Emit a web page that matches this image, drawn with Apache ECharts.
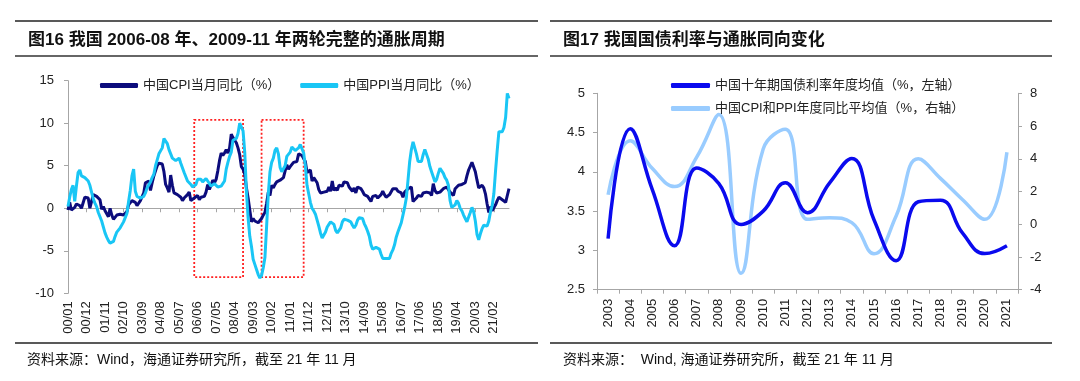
<!DOCTYPE html>
<html><head><meta charset="utf-8">
<script src="https://cdn.jsdelivr.net/npm/echarts@6/dist/echarts.min.js"></script>
<style>html,body{margin:0;padding:0;background:#fff}#c{width:1080px;height:381px}</style>
</head><body><div id="c"></div>
<script>
// ---------- Figure 16: monthly CPI / PPI yoy (%), 2000/01 - 2021/11 ----------
const cpiMonthly = [
  -0.2, 0.7, -0.2, -0.3, 0.1, 0.5, 0.5, 0.3, 0.0, 0.0, 1.3, 1.5,      // 2000
  1.2, 0.0, 0.8, 1.6, 1.7, 1.4, 1.5, 1.0, -0.1, 0.2, -0.3, -0.3,      // 2001
  -1.0, 0.0, -0.8, -1.3, -1.1, -0.8, -0.9, -0.7, -0.7, -0.8, -0.7, -0.4, // 2002
  0.4, 0.2, 0.9, 1.0, 0.7, 0.3, 0.5, 0.9, 1.1, 1.8, 3.0, 3.2,         // 2003
  3.2, 2.1, 3.0, 3.8, 4.4, 5.0, 5.3, 5.3, 5.2, 4.3, 2.8, 2.4,         // 2004
  1.9, 3.9, 2.7, 1.8, 1.8, 1.6, 1.8, 1.3, 0.9, 1.2, 1.3, 1.6,         // 2005
  1.9, 0.9, 0.8, 1.2, 1.4, 1.5, 1.0, 1.3, 1.5, 1.4, 1.9, 2.8,         // 2006
  2.2, 2.7, 3.3, 3.0, 3.4, 4.4, 5.6, 6.5, 6.2, 6.5, 6.9, 6.5,         // 2007
  7.1, 8.7, 8.3, 8.5, 7.7, 7.1, 6.3, 4.9, 4.6, 4.0, 2.4, 1.2,         // 2008
  1.0, -1.6, -1.2, -1.5, -1.4, -1.7, -1.8, -1.2, -0.8, -0.5, 0.6, 1.9, // 2009
  1.5, 2.7, 2.4, 2.8, 3.1, 2.9, 3.3, 3.5, 3.6, 4.4, 5.1, 4.6,         // 2010
  4.9, 4.9, 5.4, 5.3, 5.5, 6.4, 6.5, 6.2, 6.1, 5.5, 4.2, 4.1,         // 2011
  4.5, 3.2, 3.6, 3.4, 3.0, 2.2, 1.8, 2.0, 1.9, 1.7, 2.0, 2.5,         // 2012
  2.0, 3.2, 2.1, 2.4, 2.1, 2.7, 2.7, 2.6, 3.1, 3.2, 3.0, 2.5,         // 2013
  2.5, 2.0, 2.4, 1.8, 2.5, 2.3, 2.3, 2.0, 1.6, 1.6, 1.4, 1.5,         // 2014
  0.8, 1.4, 1.4, 1.5, 1.2, 1.4, 1.6, 2.0, 1.6, 1.3, 1.5, 1.6,         // 2015
  1.8, 2.3, 2.3, 2.3, 2.0, 1.9, 1.8, 1.3, 1.9, 2.1, 2.3, 2.1,         // 2016
  2.5, 0.8, 0.9, 1.2, 1.5, 1.5, 1.4, 1.8, 1.6, 1.9, 1.7, 1.8,         // 2017
  1.5, 2.9, 2.1, 1.8, 1.8, 1.9, 2.1, 2.3, 2.5, 2.5, 2.2, 1.9,         // 2018
  1.7, 1.5, 2.3, 2.5, 2.7, 2.7, 2.8, 2.8, 3.0, 3.8, 4.5, 4.5,         // 2019
  5.4, 5.2, 4.3, 3.3, 2.4, 2.5, 2.7, 2.4, 1.7, 0.5, -0.5, 0.2,        // 2020
  -0.3, -0.2, 0.4, 0.9, 1.3, 1.1, 1.0, 0.8, 0.7, 1.5, 2.3             // 2021
];
const ppiMonthly = [
  0.2, 1.3, 2.2, 2.7, 0.8, 2.6, 4.2, 4.5, 3.8, 3.7, 3.6, 3.4,         // 2000
  3.2, 2.7, 1.9, 1.1, 0.6, 0.2, -0.5, -1.0, -1.5, -2.2, -2.9, -3.4,   // 2001
  -3.8, -4.1, -4.2, -3.9, -3.3, -2.8, -2.6, -2.3, -2.1, -1.6, -1.1, -0.6, // 2002
  0.8, 2.1, 3.8, 4.6, 2.0, 1.4, 1.2, 1.2, 1.1, 1.4, 1.8, 2.4,         // 2003
  2.6, 3.1, 3.6, 4.0, 5.0, 5.7, 6.4, 6.4, 7.1, 8.2, 8.4, 7.6,         // 2004
  6.9, 6.4, 5.9, 5.8, 5.6, 5.5, 5.9, 5.3, 5.1, 4.2, 3.7, 3.2,         // 2005
  3.1, 2.8, 2.5, 2.3, 2.8, 3.4, 3.6, 3.4, 3.1, 3.3, 3.5, 3.2,         // 2006
  3.3, 2.6, 2.7, 2.9, 2.8, 2.5, 2.4, 2.6, 2.7, 3.2, 4.6, 5.4,         // 2007
  6.1, 6.6, 8.0, 8.1, 8.2, 8.8, 10.0, 10.1, 9.1, 6.6, 2.0, -1.1,      // 2008
  -3.3, -4.5, -6.0, -6.6, -7.2, -7.8, -8.2, -7.9, -7.0, -5.8, -2.1, 1.7, // 2009
  4.3, 5.4, 5.9, 6.8, 7.1, 6.4, 4.8, 4.3, 4.3, 5.0, 6.1, 5.9,         // 2010
  6.6, 7.2, 7.3, 6.8, 6.8, 7.1, 7.5, 7.3, 6.5, 5.0, 2.7, 1.7,         // 2011
  0.7, 0.0, -0.3, -0.7, -1.4, -2.1, -2.9, -3.5, -3.6, -2.8, -2.2, -1.9, // 2012
  -1.6, -1.6, -1.9, -2.6, -2.9, -2.7, -2.3, -1.6, -1.3, -1.5, -1.4, -1.4, // 2013
  -1.6, -2.0, -2.3, -2.0, -1.4, -1.1, -0.9, -1.2, -1.8, -2.2, -2.7, -3.3, // 2014
  -4.3, -4.8, -4.6, -4.6, -4.6, -4.8, -5.4, -5.9, -5.9, -5.9, -5.9, -5.9, // 2015
  -5.3, -4.9, -4.3, -3.4, -2.8, -2.6, -1.7, -0.8, 0.1, 1.2, 3.3, 5.5, // 2016
  6.9, 7.8, 7.6, 6.4, 5.5, 5.5, 5.5, 6.3, 6.9, 6.9, 5.8, 4.9,         // 2017
  4.3, 3.7, 3.1, 3.4, 4.1, 4.7, 4.6, 4.1, 3.6, 3.3, 2.7, 0.9,         // 2018
  0.1, 0.1, 0.4, 0.9, 0.6, 0.0, -0.3, -0.8, -1.2, -1.6, -1.4, -0.5,   // 2019
  0.1, -0.4, -1.5, -3.1, -3.7, -3.0, -2.4, -2.0, -2.1, -2.1, -1.5, -0.4, // 2020
  0.3, 1.7, 4.4, 6.8, 9.0, 8.8, 9.0, 9.5, 10.7, 13.5, 12.9           // 2021
];
const monthStartYear = 2000;
const monthLabels = [];
for (let i = 0; i < cpiMonthly.length; i++) {
  const y = monthStartYear + Math.floor(i / 12), m = i % 12 + 1;
  monthLabels.push(String(y % 100).padStart(2, '0') + '/' + String(m).padStart(2, '0'));
}
const cycleBoxes = [['06/04', '08/09'], ['09/08', '11/09']];
const cycleBoxTop = 10.4, cycleBoxBottom = -8.1;
const leftYTicks = { min: -10, max: 15, interval: 5 };

// ---------- Figure 17: annual averages, 2003 - 2021 ----------
const years = ['2003','2004','2005','2006','2007','2008','2009','2010','2011','2012',
               '2013','2014','2015','2016','2017','2018','2019','2020','2021'];
const bondYield10y = [3.15, 4.55, 3.77, 3.06, 4.05, 3.85, 3.33, 3.50, 3.86, 3.48,
                      3.86, 4.17, 3.39, 2.87, 3.62, 3.64, 3.22, 2.96, 3.06];
const cpiPpiAvg = [1.8, 5.1, 3.4, 2.3, 4.1, 6.7, -3.0, 4.6, 5.8, 0.3,
                   0.4, 0.1, -1.8, 0.5, 4.0, 2.8, 1.5, 0.3, 4.4];
const rightYLeftTicks = { min: 2.5, max: 5, interval: 0.5 };
const rightYRightTicks = { min: -4, max: 8, interval: 2 };

const names = {
  cpi: '中国CPI当月同比（%）',
  ppi: '中国PPI当月同比（%）',
  bond: '中国十年期国债利率年度均值（%，左轴）',
  avg: '中国CPI和PPI年度同比平均值（%，右轴）'
};

const FONT = '"Liberation Sans", Arial, "Noto Sans CJK SC", sans-serif';
const AX = '#a6a6a6';
const TXT = '#222';

const chart = echarts.init(document.getElementById('c'), null, { renderer: 'canvas' });

function hLine(x1, x2, y, w, c) {
  return { type: 'line', silent: true, shape: { x1, y1: y, x2, y2: y }, style: { stroke: c, lineWidth: w } };
}
function txt(x, y, s, font) {
  return { type: 'text', silent: true, x, y, style: { text: s, font, fill: '#111', verticalAlign: 'middle', textAlign: 'left' } };
}

const option = {
  backgroundColor: '#fff',
  animation: false,
  textStyle: { fontFamily: FONT },
  graphic: [
    hLine(15, 538, 21, 1.5, '#222'),
    hLine(15, 538, 56, 2, '#666'),
    hLine(15, 538, 343, 1.5, '#222'),
    hLine(550, 1052, 21, 1.5, '#222'),
    hLine(550, 1052, 56, 2, '#666'),
    hLine(550, 1052, 343, 1.5, '#222'),
    txt(28, 40, '图16 我国 2006-08 年、2009-11 年两轮完整的通胀周期', 'bold 17px ' + FONT),
    txt(563, 40, '图17 我国国债利率与通胀同向变化', 'bold 17px ' + FONT),
    txt(27, 360, '资料来源：Wind，海通证券研究所，截至 21 年 11 月', '14px ' + FONT),
    txt(563, 360, '资料来源：  Wind, 海通证券研究所，截至 21 年 11 月', '14px ' + FONT)
  ],
  legend: [
    {
      data: [names.cpi, names.ppi],
      left: 95, top: 74, itemWidth: 38, itemHeight: 5, itemGap: 20,
      icon: 'roundRect',
      textStyle: { fontSize: 13, color: TXT, fontFamily: FONT },
      selectedMode: false
    },
    {
      data: [names.bond, names.avg],
      orient: 'vertical',
      left: 666, top: 74, itemWidth: 39, itemHeight: 5, itemGap: 10,
      icon: 'roundRect',
      textStyle: { fontSize: 13, color: TXT, fontFamily: FONT },
      selectedMode: false
    }
  ],
  grid: [
    { left: 68, top: 80.7, width: 441, height: 212.6, containLabel: false, outerBoundsMode: 'none' },
    { left: 597, top: 93.3, width: 421, height: 196.4, containLabel: false, outerBoundsMode: 'none' }
  ],
  xAxis: [
    {
      type: 'category', gridIndex: 0, data: monthLabels, boundaryGap: false,
      axisLine: { show: true, onZero: true, lineStyle: { color: AX, width: 1 } },
      axisTick: { show: true, interval: 10, length: 4, lineStyle: { color: AX } },
      axisLabel: { show: false },
      splitLine: { show: false }
    },
    {
      type: 'category', gridIndex: 0, data: monthLabels, boundaryGap: false, position: 'bottom',
      axisLine: { show: false, onZero: false },
      axisTick: { show: false },
      axisLabel: { show: true, interval: 10, rotate: 90, margin: 8, fontSize: 13, color: TXT, fontFamily: FONT },
      splitLine: { show: false }
    },
    {
      type: 'category', gridIndex: 1, data: years, boundaryGap: true, position: 'bottom',
      axisLine: { show: true, onZero: false, lineStyle: { color: AX } },
      axisTick: { show: true, alignWithLabel: false, interval: 0, length: 4, lineStyle: { color: AX } },
      axisLabel: { show: true, interval: 0, rotate: 90, margin: 9, fontSize: 13, color: TXT, fontFamily: FONT },
      splitLine: { show: false }
    }
  ],
  yAxis: [
    {
      type: 'value', gridIndex: 0, min: leftYTicks.min, max: leftYTicks.max, interval: leftYTicks.interval,
      axisLine: { show: true, lineStyle: { color: AX } },
      axisTick: { show: true, length: 4, lineStyle: { color: AX } },
      axisLabel: { fontSize: 13, color: TXT, margin: 14, fontFamily: FONT },
      splitLine: { show: false }
    },
    {
      type: 'value', gridIndex: 1, position: 'left',
      min: rightYLeftTicks.min, max: rightYLeftTicks.max, interval: rightYLeftTicks.interval,
      axisLine: { show: true, lineStyle: { color: AX } },
      axisTick: { show: true, length: 4, lineStyle: { color: AX } },
      axisLabel: { fontSize: 13, color: TXT, margin: 12, fontFamily: FONT },
      splitLine: { show: false }
    },
    {
      type: 'value', gridIndex: 1, position: 'right',
      min: rightYRightTicks.min, max: rightYRightTicks.max, interval: rightYRightTicks.interval,
      axisLine: { show: true, lineStyle: { color: AX } },
      axisTick: { show: true, length: 4, lineStyle: { color: AX } },
      axisLabel: { fontSize: 13, color: TXT, margin: 12, fontFamily: FONT },
      splitLine: { show: false }
    }
  ],
  series: [
    {
      name: names.cpi, type: 'line', xAxisIndex: 0, yAxisIndex: 0, data: cpiMonthly,
      showSymbol: false, symbol: 'none', color: '#0c0c7c',
      lineStyle: { color: '#0c0c7c', width: 3 },
      markArea: {
        silent: true,
        label: { show: false },
        itemStyle: { color: 'rgba(0,0,0,0)', borderColor: '#ff2020', borderWidth: 1.8, borderType: [2, 2] },
        data: cycleBoxes.map(b => [{ xAxis: b[0], yAxis: cycleBoxTop }, { xAxis: b[1], yAxis: cycleBoxBottom }])
      }
    },
    {
      name: names.ppi, type: 'line', xAxisIndex: 0, yAxisIndex: 0, data: ppiMonthly,
      showSymbol: false, symbol: 'none', color: '#19c6f5',
      lineStyle: { color: '#19c6f5', width: 3 }
    },
    {
      name: names.avg, type: 'line', xAxisIndex: 2, yAxisIndex: 2, data: cpiPpiAvg,
      smooth: 0.45, smoothConstraint: false, showSymbol: false, symbol: 'none', color: '#99ccff',
      lineStyle: { color: '#99ccff', width: 3.5 }
    },
    {
      name: names.bond, type: 'line', xAxisIndex: 2, yAxisIndex: 1, data: bondYield10y,
      smooth: 0.45, smoothConstraint: false, showSymbol: false, symbol: 'none', color: '#0a0aee',
      lineStyle: { color: '#0a0aee', width: 3.5 }
    }
  ]
};
chart.setOption(option);
</script>
</body></html>
